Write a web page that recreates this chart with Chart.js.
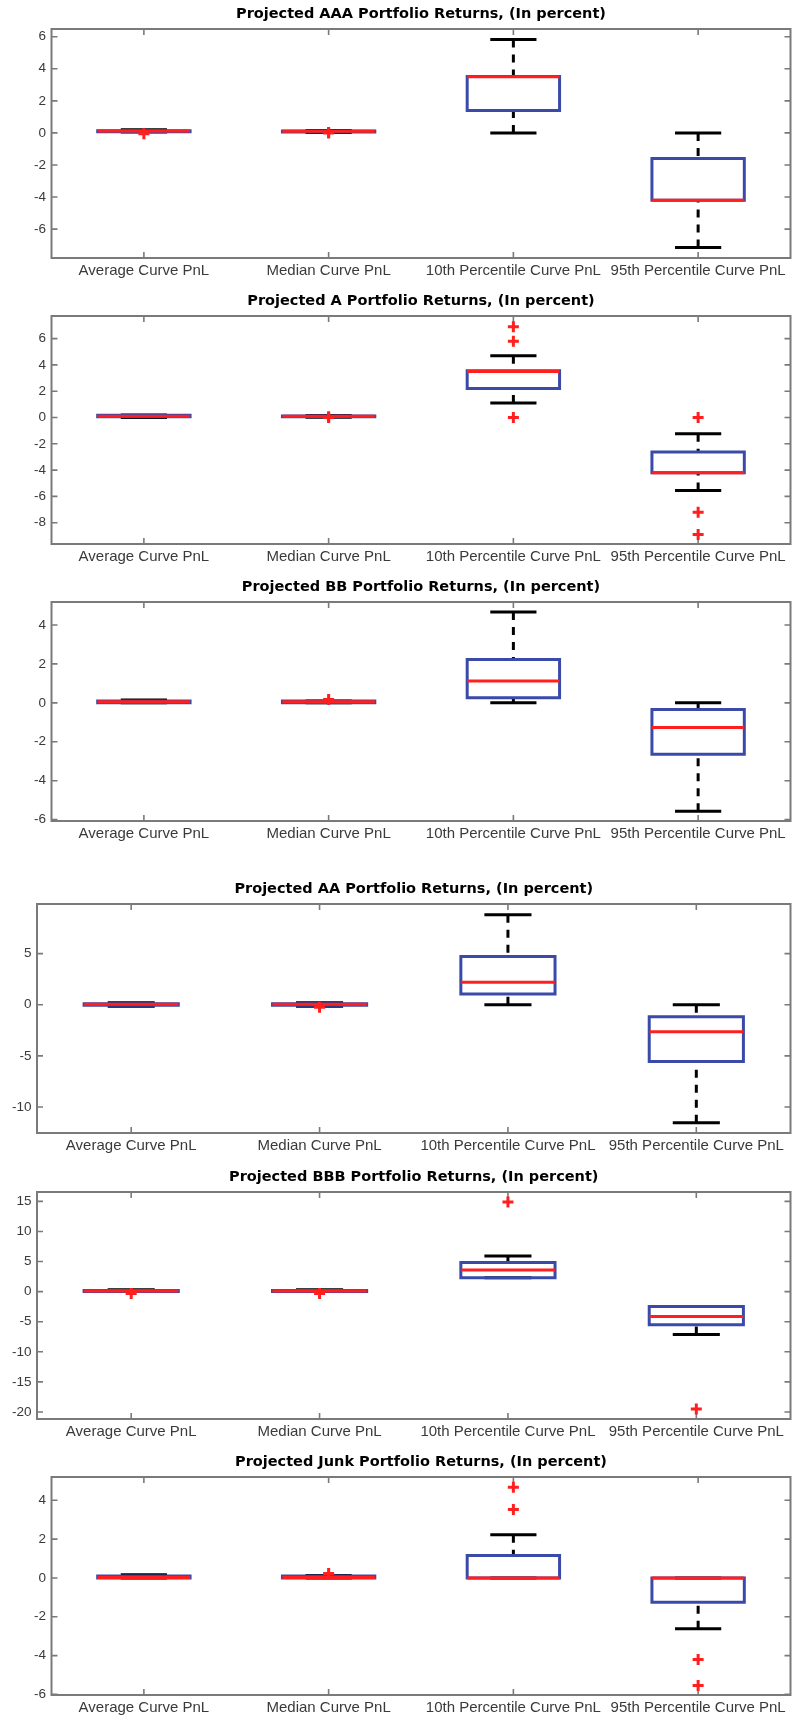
<!DOCTYPE html>
<html><head><meta charset="utf-8">
<script src="https://cdn.jsdelivr.net/npm/chart.js@4.4.0/dist/chart.umd.min.js"></script>
<style>
html,body{margin:0;padding:0;background:#fff;}
body{width:792px;height:1717px;position:relative;overflow:hidden;}
.p{position:absolute;left:0;width:792px;}
canvas{display:block;}
</style></head>
<body>
<div class="p" id="w0"><canvas id="c0"></canvas></div>
<div class="p" id="w1"><canvas id="c1"></canvas></div>
<div class="p" id="w2"><canvas id="c2"></canvas></div>
<div class="p" id="w3"><canvas id="c3"></canvas></div>
<div class="p" id="w4"><canvas id="c4"></canvas></div>
<div class="p" id="w5"><canvas id="c5"></canvas></div>
<script>
// ---------- DATA ----------
const categories = ['Average Curve PnL', 'Median Curve PnL', '10th Percentile Curve PnL', '95th Percentile Curve PnL'];

// AAA
const aaaTitle = 'Projected AAA Portfolio Returns, (In percent)';
const aaaLow    = [0.05, 0.02, 0.0, -7.15];
const aaaQ1     = [0.07, 0.05, 1.4, -4.2];
const aaaMedian = [0.12, 0.1, 3.5, -4.2];
const aaaQ3     = [0.14, 0.12, 3.52, -1.6];
const aaaHigh   = [0.2, 0.15, 5.83, 0.0];
const aaaOutliers = [[-0.05], [0.0, 0.03], [], []];
const aaaTicks  = [-6, -4, -2, 0, 2, 4, 6];
const aaaRange  = [-7.8, 6.48];

// A
const aTitle = 'Projected A Portfolio Returns, (In percent)';
const aLow    = [0.0, 0.02, 1.1, -5.55];
const aQ1     = [0.05, 0.05, 2.2, -4.2];
const aMedian = [0.1, 0.1, 3.5, -4.2];
const aQ3     = [0.17, 0.12, 3.55, -2.63];
const aHigh   = [0.2, 0.15, 4.7, -1.24];
const aOutliers = [[], [0.05, 0.0], [6.9, 5.8, 0.0], [0.0, -7.2, -8.9]];
const aTicks  = [-8, -6, -4, -2, 0, 2, 4, 6];
const aRange  = [-9.62, 7.72];

// BB
const bbTitle = 'Projected BB Portfolio Returns, (In percent)';
const bbLow    = [0.0, 0.0, 0.0, -5.57];
const bbQ1     = [0.0, 0.0, 0.26, -2.64];
const bbMedian = [0.05, 0.05, 1.12, -1.27];
const bbQ3     = [0.1, 0.1, 2.22, -0.34];
const bbHigh   = [0.15, 0.1, 4.67, 0.0];
const bbOutliers = [[], [0.17], [], []];
const bbTicks  = [-6, -4, -2, 0, 2, 4];
const bbRange  = [-6.07, 5.18];

// AA
const aaTitle = 'Projected AA Portfolio Returns, (In percent)';
const aaLow    = [-0.15, -0.15, 0.0, -11.53];
const aaQ1     = [-0.05, -0.05, 1.06, -5.54];
const aaMedian = [0.05, 0.05, 2.2, -2.65];
const aaQ3     = [0.1, 0.1, 4.71, -1.18];
const aaHigh   = [0.2, 0.2, 8.81, 0.0];
const aaOutliers = [[], [-0.25], [], []];
const aaTicks  = [-10, -5, 0, 5];
const aaRange  = [-12.54, 9.85];

// BBB
const bbbTitle = 'Projected BBB Portfolio Returns, (In percent)';
const bbbLow    = [0.0, 0.0, 2.29, -7.11];
const bbbQ1     = [0.0, 0.0, 2.29, -5.51];
const bbbMedian = [0.1, 0.1, 3.61, -4.13];
const bbbQ3     = [0.2, 0.2, 4.83, -2.47];
const bbbHigh   = [0.3, 0.3, 5.93, -2.47];
const bbbOutliers = [[-0.3], [-0.3], [14.9], [-19.5]];
const bbbTicks  = [-20, -15, -10, -5, 0, 5, 10, 15];
const bbbRange  = [-21.16, 16.55];

// Junk
const junkTitle = 'Projected Junk Portfolio Returns, (In percent)';
const junkLow    = [0.0, 0.0, 0.0, -2.62];
const junkQ1     = [0.0, 0.0, 0.0, -1.25];
const junkMedian = [0.02, 0.02, 0.0, 0.0];
const junkQ3     = [0.1, 0.1, 1.15, 0.0];
const junkHigh   = [0.16, 0.12, 2.22, 0.0];
const junkOutliers = [[], [0.23], [4.67, 3.52], [-4.2, -5.54]];
const junkTicks  = [-6, -4, -2, 0, 2, 4];
const junkRange  = [-6.03, 5.2];

// ---------- LAYOUT / STYLE ----------
const PANELS = [
  {title: aaaTitle, low: aaaLow, q1: aaaQ1, med: aaaMedian, q3: aaaQ3, high: aaaHigh, out: aaaOutliers, ticks: aaaTicks, range: aaaRange, top: 28.5, bottom: 257.5, left: 51.5},
  {title: aTitle, low: aLow, q1: aQ1, med: aMedian, q3: aQ3, high: aHigh, out: aOutliers, ticks: aTicks, range: aRange, top: 316, bottom: 544.3, left: 51.5},
  {title: bbTitle, low: bbLow, q1: bbQ1, med: bbMedian, q3: bbQ3, high: bbHigh, out: bbOutliers, ticks: bbTicks, range: bbRange, top: 602, bottom: 820.7, left: 51.5},
  {title: aaTitle, low: aaLow, q1: aaQ1, med: aaMedian, q3: aaQ3, high: aaHigh, out: aaOutliers, ticks: aaTicks, range: aaRange, top: 904, bottom: 1133.3, left: 37},
  {title: bbbTitle, low: bbbLow, q1: bbbQ1, med: bbbMedian, q3: bbbQ3, high: bbbHigh, out: bbbOutliers, ticks: bbbTicks, range: bbbRange, top: 1192, bottom: 1419.3, left: 37},
  {title: junkTitle, low: junkLow, q1: junkQ1, med: junkMedian, q3: junkQ3, high: junkHigh, out: junkOutliers, ticks: junkTicks, range: junkRange, top: 1477.3, bottom: 1695.7, left: 51.5}
];
const PLOT_RIGHT = 790.5;
const TITLE_H = 24;
const XLAB_H = 22;
const EXTRA_BOTTOM = 14;
const BOX_HALF = 0.25, CAP_HALF = 0.125;
const BLUE = '#3a4aa8', RED = '#ff1f1f', BLACK = '#000000', FRAME = '#7a7a7a';
const LINE_W = 3;
const TICK_LEN = 6;

const frameTicks = {
  id: 'frameTicks',
  beforeDatasetsDraw(chart) {
    const {ctx, chartArea: a, scales: {x, y}} = chart;
    ctx.save();
    ctx.strokeStyle = FRAME;
    ctx.lineWidth = 1.6;
    ctx.beginPath();
    y.ticks.forEach(t => {
      const py = y.getPixelForValue(t.value);
      ctx.moveTo(a.left, py); ctx.lineTo(a.left + TICK_LEN, py);
      ctx.moveTo(a.right, py); ctx.lineTo(a.right - TICK_LEN, py);
    });
    x.ticks.forEach(t => {
      const px = x.getPixelForValue(t.value);
      ctx.moveTo(px, a.top); ctx.lineTo(px, a.top + TICK_LEN);
      ctx.moveTo(px, a.bottom); ctx.lineTo(px, a.bottom - TICK_LEN);
    });
    ctx.stroke();
    ctx.lineWidth = 2;
    ctx.strokeRect(a.left, a.top, a.right - a.left, a.bottom - a.top);
    ctx.restore();
  }
};

function buildDatasets(p) {
  const box = [], med = [], wh = [], cap = [], out = [];
  for (let i = 0; i < categories.length; i++) {
    const x = i + 1;
    box.push({x: x - BOX_HALF, y: p.q1[i]}, {x: x + BOX_HALF, y: p.q1[i]}, {x: x + BOX_HALF, y: p.q3[i]}, {x: x - BOX_HALF, y: p.q3[i]}, {x: x - BOX_HALF, y: p.q1[i]}, {x: x, y: null});
    med.push({x: x - BOX_HALF, y: p.med[i]}, {x: x + BOX_HALF, y: p.med[i]}, {x: x, y: null});
    wh.push({x: x, y: p.high[i]}, {x: x, y: p.q3[i]}, {x: x, y: null}, {x: x, y: p.low[i]}, {x: x, y: p.q1[i]}, {x: x, y: null});
    cap.push({x: x - CAP_HALF, y: p.high[i]}, {x: x + CAP_HALF, y: p.high[i]}, {x: x, y: null}, {x: x - CAP_HALF, y: p.low[i]}, {x: x + CAP_HALF, y: p.low[i]}, {x: x, y: null});
    p.out[i].forEach(v => out.push({x: x, y: v}));
  }
  const line = {type: 'line', showLine: true, pointRadius: 0, spanGaps: false, fill: false, tension: 0};
  return [
    Object.assign({}, line, {label: 'outliers', data: out, showLine: false, pointStyle: 'cross', pointRadius: 5.5, pointBorderWidth: 3, pointBorderColor: RED, pointBackgroundColor: RED, borderColor: RED, order: 0}),
    Object.assign({}, line, {label: 'median', data: med, borderColor: RED, borderWidth: LINE_W, borderCapStyle: 'butt', order: 1}),
    Object.assign({}, line, {label: 'box', data: box, borderColor: BLUE, borderWidth: LINE_W, borderCapStyle: 'square', borderJoinStyle: 'miter', order: 2}),
    Object.assign({}, line, {label: 'caps', data: cap, borderColor: BLACK, borderWidth: LINE_W, order: 3}),
    Object.assign({}, line, {label: 'whiskers', data: wh, borderColor: BLACK, borderWidth: LINE_W, borderDash: [8, 7], order: 4})
  ];
}

PANELS.forEach((p, idx) => {
  const wrap = document.getElementById('w' + idx);
  const canvas = document.getElementById('c' + idx);
  const h = Math.round((p.bottom - p.top) + TITLE_H + XLAB_H + EXTRA_BOTTOM);
  wrap.style.top = (p.top - TITLE_H) + 'px';
  canvas.width = 792; canvas.height = h;
  canvas.style.width = '792px'; canvas.style.height = h + 'px';
  new Chart(canvas, {
    type: 'line',
    data: {datasets: buildDatasets(p)},
    options: {
      responsive: false,
      devicePixelRatio: 1,
      animation: false,
      events: [],
      layout: {autoPadding: false, padding: {left: 0, top: 0, bottom: h - Math.round((p.bottom - p.top) + TITLE_H + XLAB_H), right: 792 - PLOT_RIGHT}},
      plugins: {
        legend: {display: false},
        tooltip: {enabled: false},
        title: {display: true, text: p.title, fullSize: false, color: '#000',
          font: {family: 'DejaVu Sans', size: 14.5, weight: 'bold', lineHeight: 1.2},
          padding: {top: 1, bottom: TITLE_H - 1 - 17.4}}
      },
      scales: {
        x: {type: 'linear', min: 0.5, max: 4.5,
          grid: {display: false, drawTicks: false}, border: {display: false},
          afterBuildTicks: s => { s.ticks = categories.map((c, i) => ({value: i + 1})); },
          afterFit: s => { s.height = XLAB_H; },
          ticks: {autoSkip: false, maxRotation: 0, padding: 4, color: '#3a3a3a',
            font: {family: 'Liberation Sans', size: 15},
            callback: v => categories[Math.round(v) - 1]}
        },
        y: {type: 'linear', min: p.range[0], max: p.range[1],
          grid: {display: false, drawTicks: false}, border: {display: false},
          afterBuildTicks: s => { s.ticks = p.ticks.map(v => ({value: v})); },
          afterFit: s => { s.width = p.left; },
          ticks: {padding: 5.5, color: '#3a3a3a', font: {family: 'Liberation Sans', size: 13.5}}
        }
      }
    },
    plugins: [frameTicks]
  });
});
</script>
</body></html>
